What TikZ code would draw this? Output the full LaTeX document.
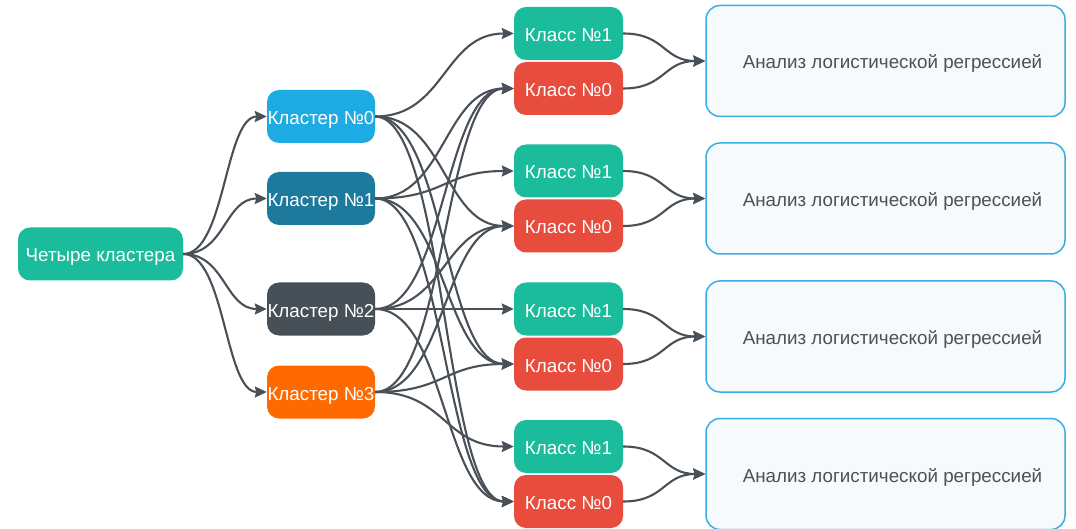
\documentclass[tikz,border=0pt]{standalone}
\usepackage{fontspec}
\setmainfont{Liberation Sans}
\usetikzlibrary{arrows.meta}
\definecolor{cTeal}{HTML}{1ABC9C}
\definecolor{cBlue}{HTML}{1EAAE2}
\definecolor{cDBlue}{HTML}{1E7A9C}
\definecolor{cGrey}{HTML}{474F57}
\definecolor{cOrange}{HTML}{FF6A00}
\definecolor{cRed}{HTML}{E74C3C}
\definecolor{cEdge}{HTML}{4A5058}
\definecolor{cBoxBorder}{HTML}{3AAEE2}
\definecolor{cBoxFill}{HTML}{F6FAFD}
\definecolor{cText}{HTML}{4D5156}
\begin{document}
\begin{tikzpicture}[x=1pt,y=-1pt,
  txt/.style={font=\fontsize{18.8}{22}\selectfont, text height=16pt, text depth=0pt},
  box/.style={rectangle, rounded corners=12pt, inner sep=0pt, minimum height=53pt,
    text=white, txt},
  clusterbox/.style={box, minimum width=108pt},
  classbox/.style={box, minimum width=109pt},
  anabox/.style={rectangle, rounded corners=14pt, inner sep=0pt, minimum width=359pt,
    minimum height=111pt, draw=cBoxBorder, line width=1.5pt, fill=cBoxFill,
    text=cText, txt},
  conn/.style={draw=cEdge, line width=2.1pt, -{Stealth[length=12pt,width=11pt,inset=1.5pt]}}]
\useasboundingbox (0,0) rectangle (1076,529);

% root and clusters
\node[box, fill=cTeal, minimum width=165pt] (root) at (100.5,254) {Четыре кластера};
\node[clusterbox, fill=cBlue]   (k0) at (321,116.5) {Кластер №0};
\node[clusterbox, fill=cDBlue]  (k1) at (321,198.5) {Кластер №1};
\node[clusterbox, fill=cGrey]   (k2) at (321,309)   {Кластер №2};
\node[clusterbox, fill=cOrange] (k3) at (321,392)   {Кластер №3};

% class groups and analysis boxes
\foreach \g/\yc in {1/61, 2/198.5, 3/336.5, 4/474}{
  \node[classbox, fill=cTeal] (p\g) at (568.5,\yc-27.5) {Класс №1};
  \node[classbox, fill=cRed]  (n\g) at (568.5,\yc+27.5) {Класс №0};
  \node[anabox] (a\g) at (885.5,\yc) {\hspace*{14pt}Анализ логистической регрессией};
}

% root -> clusters
\foreach \k in {k0,k1,k2,k3}{
  \draw[conn] (root.east) .. controls +(42,0) and +(-42,0) .. (\k.west);
}

% clusters -> classes
\foreach \i/\own in {0/1,1/2,2/3,3/4}{
  \draw[conn] (k\i.east) .. controls +(70,0) and +(-70,0) .. (p\own.west);
  \foreach \j in {1,2,3,4}{
    \ifnum\j=\own\else
      \draw[conn] (k\i.east) .. controls +(70,0) and +(-70,0) .. (n\j.west);
    \fi
  }
}

% classes -> analysis
\foreach \g in {1,2,3,4}{
  \draw[conn] (p\g.east) .. controls +(42,0) and +(-42,0) .. (a\g.west);
  \draw[conn] (n\g.east) .. controls +(42,0) and +(-42,0) .. (a\g.west);
}
\end{tikzpicture}
\end{document}
